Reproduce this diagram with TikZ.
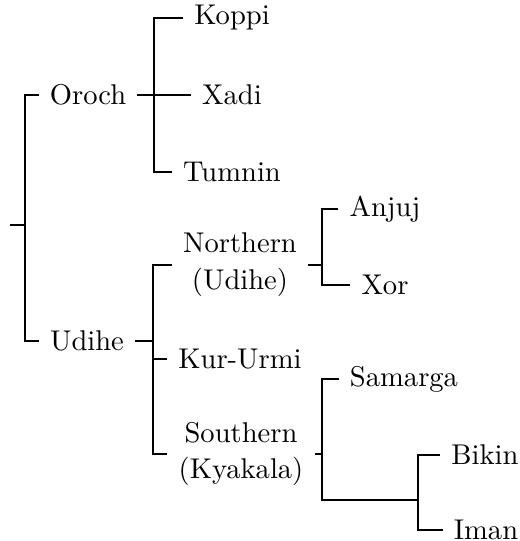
\documentclass[tikz,border=0pt]{standalone}
\usepackage{tikz}
\usetikzlibrary{positioning}
\tikzset{every picture/.style={line width=0.45pt}}

\begin{document}
\begin{tikzpicture}[x=0.357pt,y=-0.357pt,
        lang/.style={inner xsep=3.8pt,inner ysep=1pt,align=center,font=\fontsize{10.2}{13.2}\selectfont}]
        % Fix the canvas
        \useasboundingbox (0,0) rectangle (519,541);

        % First level
        \node[lang] (oroch) at (88,95) {Oroch};
        \node[lang] (udihe) at (87,341) {Udihe};

        % Oroch branch
        \node[lang] (koppi) at (232,18) {Koppi};
        \node[lang] (xadi) at (232,95) {Xadi};
        \node[lang] (tumnin) at (232,172) {Tumnin};

        % Udihe branch
        \node[lang] (northern) at (240,265) {Northern\\(Udihe)};
        \node[lang] (kururmi) at (240,359) {Kur-Urmi};
        \node[lang] (southern) at (241,454) {Southern\\(Kyakala)};

        % Northern and Southern leaves
        \node[lang] (anjuj) at (385,209) {Anjuj};
        \node[lang] (xor) at (385,285) {Xor};
        \node[lang] (samarga) at (404,379) {Samarga};
        \node[lang] (bikin) at (485,455) {Bikin};
        \node[lang] (iman) at (486,530) {Iman};

        % Junction points
        \coordinate (rt) at (10,225);
        \coordinate (rj) at (25,225);
        \coordinate (oj) at (154,95);
        \coordinate (uj) at (153,341);
        \coordinate (nj) at (322,265);
        \coordinate (sj) at (322,454);
        \coordinate (bj) at (418,500);

        % Draw the brackets
        \draw (rt) -- (rj);
        \draw (oroch.west) -| (rj) |- (udihe.west);

        \draw (oroch.east) -- (oj);
        \draw (koppi.west) -| (oj) |- (tumnin.west);
        \draw (oj) -- (xadi.west);

        \draw (udihe.east) -- (uj);
        \draw (northern.west) -| (uj) |- (southern.west);
        \draw (uj |- kururmi.west) -- (kururmi.west);

        \draw (northern.east) -- (nj);
        \draw (anjuj.west) -| (nj) |- (xor.west);

        \draw (southern.east) -- (sj);
        \draw (samarga.west) -| (sj) |- (bj);
        \draw (bikin.west) -| (bj) |- (iman.west);
\end{tikzpicture}
\end{document}
